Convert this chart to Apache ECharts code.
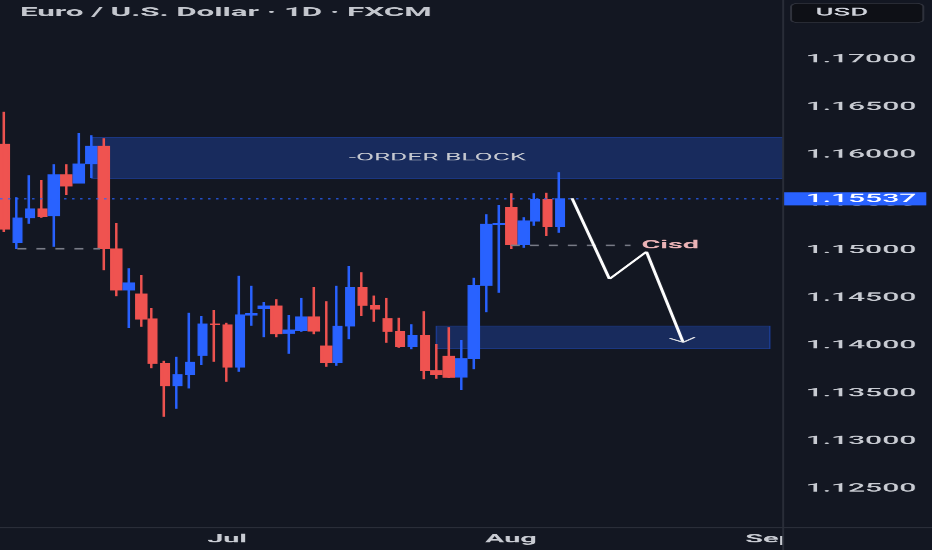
<!DOCTYPE html>
<html>
<head>
<meta charset="utf-8">
<script src="https://cdn.jsdelivr.net/npm/echarts@6/dist/echarts.min.js"></script>
<style>
html,body{margin:0;padding:0;background:#131722;overflow:hidden;width:932px;height:550px;}
#chart{width:373px;height:550px;transform:scaleX(2.49866);transform-origin:0 0;}
</style>
</head>
<body>
<div id="chart"></div>
<script>
// ---- candle values (index = trading day position) ----
const opens  = [1.16109,1.15078,1.15340,1.15431,1.15361,1.15788,1.15704,1.15906,1.16088,1.15012,1.14582,1.14540,1.14278,1.13810,1.13579,1.13697,1.13898,1.14226,1.14216,1.13775,1.14320,1.14386,1.14415,1.14129,1.14160,1.14299,1.13995,1.13820,1.14205,1.14606,1.14422,1.14282,1.14145,1.13988,1.14108,1.13737,1.13888,1.13671,1.13862,1.14632,1.15271,1.15449,1.15061,1.15305,1.15533,1.15246];
const closes = [1.15222,1.15337,1.15431,1.15350,1.15788,1.15672,1.15903,1.16088,1.15015,1.14582,1.14656,1.14278,1.13814,1.13579,1.13695,1.13825,1.14226,1.14219,1.13775,1.14320,1.14334,1.14415,1.14124,1.14163,1.14299,1.14153,1.13820,1.14202,1.14606,1.14423,1.14383,1.14150,1.13988,1.14108,1.13737,1.13695,1.13668,1.13862,1.14632,1.15271,1.15281,1.15061,1.15305,1.15533,1.15246,1.15537];
const lows   = [1.15190,1.15012,1.15277,1.15340,1.15036,1.15578,1.15700,1.15756,1.14789,1.14516,1.14184,1.14198,1.13762,1.13255,1.13338,1.13550,1.13796,1.13831,1.13621,1.13726,1.14208,1.14087,1.14087,1.13915,1.14145,1.14118,1.13779,1.13789,1.14066,1.14310,1.14250,1.14030,1.13978,1.13961,1.13647,1.13653,1.13660,1.13534,1.13751,1.14349,1.14554,1.15012,1.15026,1.15256,1.15148,1.15183];
const highs  = [1.16451,1.15554,1.15784,1.15735,1.15900,1.15900,1.16228,1.16204,1.16172,1.15284,1.14810,1.14740,1.14394,1.13841,1.13883,1.14344,1.14310,1.14373,1.14240,1.14732,1.14627,1.14457,1.14485,1.14320,1.14499,1.14614,1.14464,1.14627,1.14834,1.14768,1.14525,1.14499,1.14292,1.14223,1.14359,1.14016,1.14191,1.14058,1.14711,1.15376,1.15473,1.15596,1.15344,1.15596,1.15602,1.15816];

// ---- axis ticks ----
const monthTickIdx = [18, 41, 62];
const monthNames   = ['Jul', 'Aug', 'Sep'];
const priceTicks   = [1.125,1.13,1.135,1.14,1.145,1.15,1.155,1.16,1.165,1.17];
const xRange = [-0.405, 63.07];
const yRange = [1.120913, 1.176214];

// ---- annotations (data coordinates: [index, price]) ----
const orderBlock  = [[7.03, 1.16182], [63.07, 1.15751]];
const demandZone  = [[34.96, 1.14205], [61.99, 1.13966]];
const leftLevel   = [[1.0, 1.15015], [7.7, 1.15015]];
const cisdLevel   = [[41.0, 1.15050], [50.7, 1.15050]];
const arrowPath   = [[45.96, 1.15543], [48.99, 1.14698], [51.99, 1.14984], [54.96, 1.14034]];
const arrowHead   = [[53.88, 1.14076], [54.96, 1.14034], [55.90, 1.14087]];
const lastPrice   = closes[closes.length - 1];
const lastPriceLine = [[xRange[0], lastPrice], [xRange[1], lastPrice]];

const candleData = opens.map((o, i) => [i, o, closes[i], lows[i], highs[i]]);

const BG = '#131722';
const TXT = '#c9ccd3';
const FONT = 'Roboto';

const chart = echarts.init(document.getElementById('chart'), null, {devicePixelRatio: 2.5});
chart.setOption({
  backgroundColor: BG,
  animation: false,
  grid: {left: 0, right: 59.75, top: 0, bottom: 22.3, containLabel: false, outerBoundsMode: 'none'},
  xAxis: {
    type: 'value', min: xRange[0], max: xRange[1],
    axisLine: {show: false}, axisTick: {show: false}, splitLine: {show: false},
    axisLabel: {
      customValues: monthTickIdx,
      formatter: v => monthNames[monthTickIdx.indexOf(v)] || '',
      color: TXT, fontSize: 11.5, fontWeight: 'bold', fontFamily: FONT, margin: 6
    }
  },
  yAxis: {
    type: 'value', position: 'right', min: yRange[0], max: yRange[1], scale: true,
    axisLine: {show: false}, axisTick: {show: false}, splitLine: {show: false},
    axisLabel: {
      customValues: priceTicks,
      formatter: v => v.toFixed(5),
      color: TXT, fontSize: 12, fontWeight: 500, fontFamily: FONT, margin: 9, align: 'left'
    }
  },
  series: [
    {
      type: 'candlestick',
      data: candleData,
      encode: {x: 0, y: [1, 2, 3, 4]},
      barWidth: 4,
      itemStyle: {
        color: '#2962ff', color0: '#ef5350',
        borderColor: '#2962ff', borderColor0: '#ef5350', borderWidth: 1
      },
      markArea: {
        silent: true,
        z: 1,
        itemStyle: {color: 'rgba(41,98,255,0.27)', borderColor: 'rgba(41,98,255,0.4)', borderWidth: 0.6},
        data: [
          [
            {xAxis: orderBlock[0][0], yAxis: orderBlock[0][1],
             label: {show: true, position: 'inside', formatter: '-ORDER BLOCK', color: '#c8cbd2', fontSize: 10.5, fontFamily: FONT}},
            {xAxis: orderBlock[1][0], yAxis: orderBlock[1][1]}
          ],
          [
            {xAxis: demandZone[0][0], yAxis: demandZone[0][1], label: {show: false}},
            {xAxis: demandZone[1][0], yAxis: demandZone[1][1]}
          ]
        ]
      }
    },
    {
      type: 'line', data: lastPriceLine, showSymbol: false, symbol: 'none', silent: true, z: 5,
      lineStyle: {color: '#2962ff', type: [1, 2.2], width: 1},
      endLabel: {
        show: true, distance: 0,
        formatter: () => lastPrice.toFixed(5),
        backgroundColor: '#2962ff', color: '#ffffff',
        fontSize: 12, fontWeight: 500, fontFamily: FONT,
        lineHeight: 12, padding: [1, 4, 0, 9]
      }
    },
    {
      type: 'line', data: leftLevel, showSymbol: false, symbol: 'none', silent: true,
      lineStyle: {color: '#787b86', width: 1.6, type: [3.6, 4]}
    },
    {
      type: 'line', data: cisdLevel, showSymbol: false, symbol: 'none', silent: true,
      lineStyle: {color: '#787b86', width: 1.6, type: [3.6, 4]},
      endLabel: {show: true, formatter: 'Cisd', distance: 4.4, color: '#ebb3b6',
                 fontSize: 11.5, fontWeight: 'bold', fontFamily: FONT}
    },
    {
      type: 'line', data: arrowPath, showSymbol: false, symbol: 'none', silent: true, z: 6,
      lineStyle: {color: '#ffffff', width: 1.3}
    },
    {
      type: 'line', data: arrowHead, showSymbol: false, symbol: 'none', silent: true, z: 6,
      lineStyle: {color: '#dcdee3', width: 1}
    }
  ],
  graphic: [
    {type: 'text', z: 10, style: {text: 'Euro / U.S. Dollar · 1D · FXCM', x: 8, y: 13, verticalAlign: 'middle',
      fill: '#c4c7ce', fontSize: 12.5, fontWeight: 'bold', fontFamily: FONT}},
    {type: 'rect', z: 10, shape: {x: 313.6, y: 528.3, width: 60, height: 22}, style: {fill: BG}},
    {type: 'line', z: 11, shape: {x1: 313.25, y1: 0, x2: 313.25, y2: 550}, style: {stroke: '#2a2e39', lineWidth: 0.8}},
    {type: 'line', z: 11, shape: {x1: 0, y1: 527.7, x2: 373, y2: 527.7}, style: {stroke: '#2a2e39', lineWidth: 1}},
    {type: 'rect', z: 10, shape: {x: 316.4, y: 3.3, width: 52.9, height: 19.4, r: 3},
      style: {fill: '#0e1016', stroke: '#2f323c', lineWidth: 0.8}},
    {type: 'text', z: 11, style: {text: 'USD', x: 326.2, y: 13, verticalAlign: 'middle',
      fill: '#d1d4dc', fontSize: 11, fontWeight: 500, fontFamily: FONT}}
  ]
});
</script>
</body>
</html>
